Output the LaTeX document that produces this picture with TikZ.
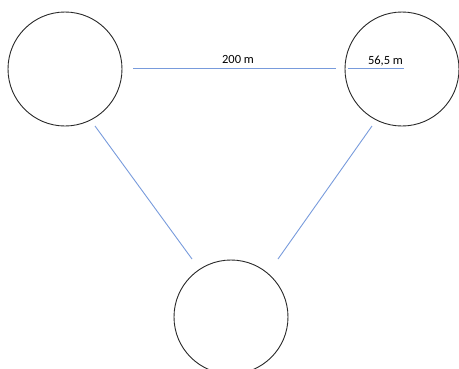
\documentclass[tikz,border=0pt]{standalone}
\usepackage{fontspec}
\setmainfont{Carlito}
\definecolor{linkblue}{RGB}{120,155,220}
\definecolor{ringgray}{RGB}{40,40,40}
\begin{document}
\begin{tikzpicture}[x=1pt,y=-1pt,
  ring/.style={circle,draw=ringgray,line width=0.9pt,minimum size=114pt,inner sep=0pt},
  link/.style={draw=linkblue,line width=0.9pt},
  lbl/.style={font=\fontsize{12.5}{15}\selectfont,anchor=base,inner sep=0pt}]
\useasboundingbox (0,0) rectangle (459,368);
\node[ring] (A) at (65,69) {};
\node[ring] (B) at (402,69) {};
\node[ring] (C) at (231,317) {};
\coordinate (h1) at (133,68.5);
\coordinate (h2) at (336,68.5);
\coordinate (r1) at (348,68.5);
\coordinate (r2) at (404,68.5);
\coordinate (l1) at (95,126);
\coordinate (l2) at (192,259);
\coordinate (m1) at (372,126);
\coordinate (m2) at (278,259);
\draw[link] (h1) -- (h2);
\draw[link] (r1) -- (r2);
\draw[link] (l1) -- (l2);
\draw[link] (m1) -- (m2);
\node[lbl] (t1) at (238,63) {200 m};
\node[lbl] (t2) at (385.5,64) {56,5 m};
\end{tikzpicture}
\end{document}
